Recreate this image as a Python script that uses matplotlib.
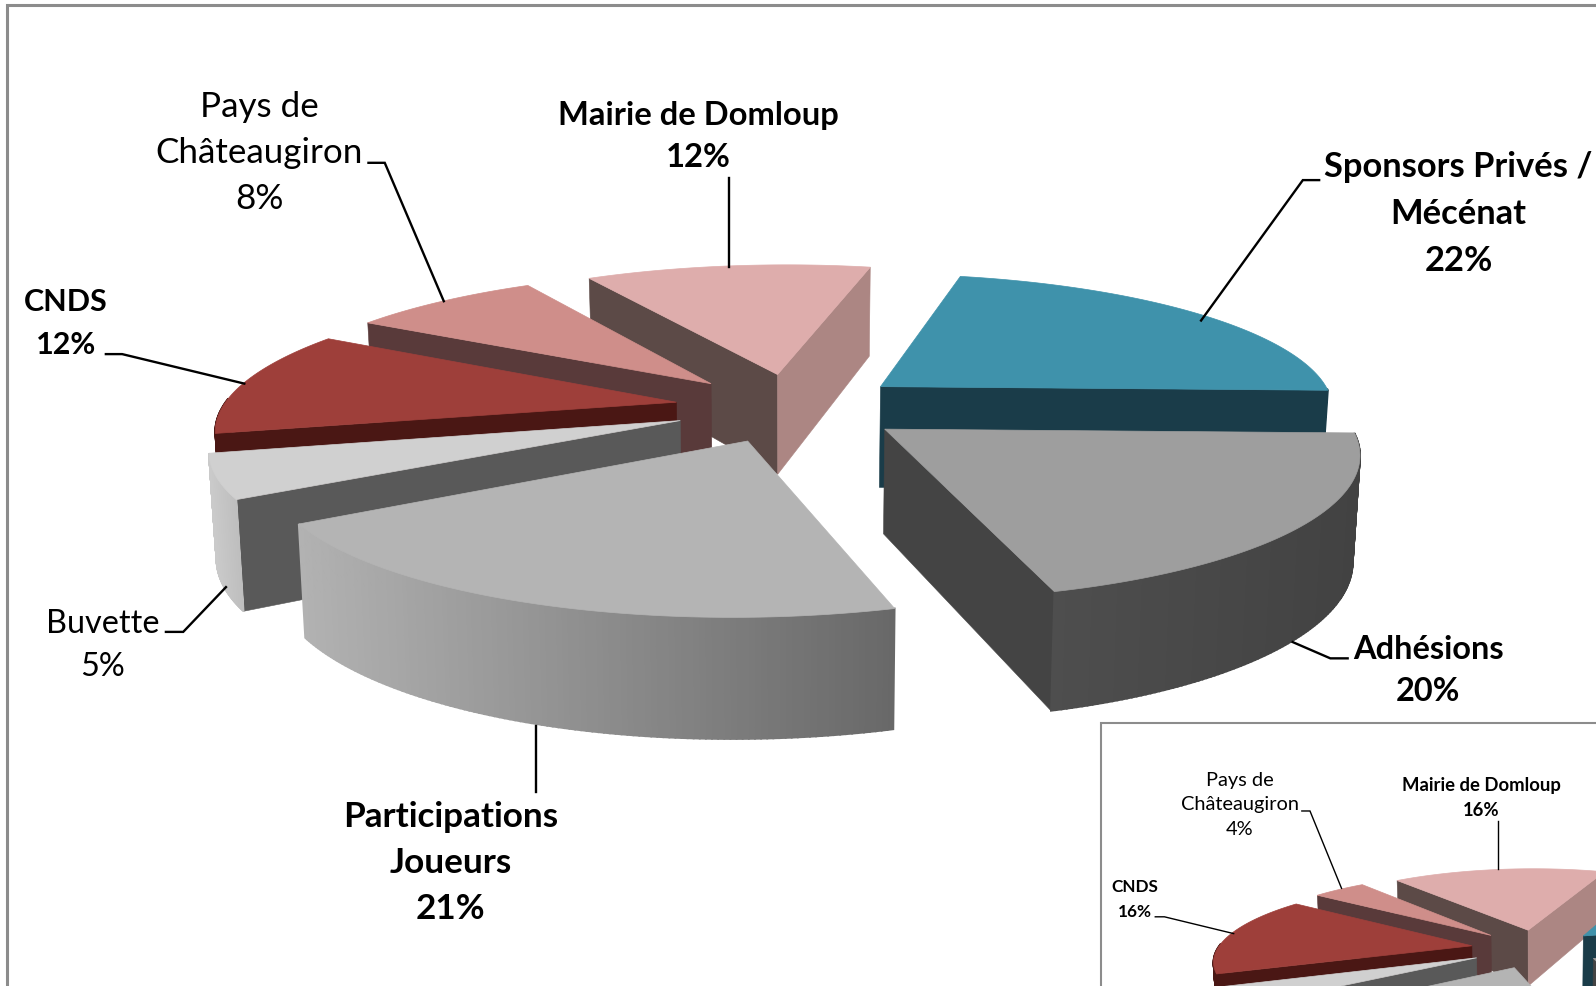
import numpy as np
import matplotlib
matplotlib.use('Agg')
import matplotlib.pyplot as plt
from matplotlib.patches import Polygon, Rectangle
from matplotlib.colors import to_rgb

W, H = 1568.0, 969.0

# data
categories = ['Sponsors Privés /\nMécénat', 'Adhésions', 'Participations\nJoueurs', 'Buvette',
              'CNDS', 'Pays de\nChâteaugiron', 'Mairie de Domloup']
vals = np.array([22, 20, 21, 5, 12, 8, 12], float)
inset_vals = np.array([16, 24, 20, 4, 16, 4, 16], float)

# projection of the pie plane on the page
CX, CY, RX, RY, K, EXPL = 779.975, 400.44, 446.603, 134.136, 0.158, 0.254
SHX, SHY = -17.836, 3.541
A0, A0_INSET = 10.847, 17.6
DEPTH, K_H = 101.0, 0.125
APEX_DX = -4.0
NUDGE = [1, 2, 3, 0, 0, 0, 4]

top_col = ['#3F92AB', '#9E9E9E', '#B4B4B4', '#D0D0D0', '#9E3F3A', '#CF8E8A', '#DEADAC']
start_wall = ['#1A3C49', '#444444', '#707070', '#595959', '#4A1714', '#593A3A', '#5C4A47']
end_wall = ['#1A3C49', '#444444', '#707070', '#C6C6C6', '#4A1714', '#593A3A', '#AC8683']
outer_left = ['#1F4A59', '#4E4E4E', '#B2B2B2', '#CACACA', '#4A1714', '#5A3A3A', '#AC8683']
outer_right = ['#1A3C49', '#424242', '#686868', '#BEBEBE', '#4A1714', '#5A3A3A', '#AC8683']

plt.rcParams['font.family'] = ['Lato', 'DejaVu Sans']
fig = plt.figure(figsize=(15.96, 9.86), dpi=100)
ax = fig.add_axes([0, 0, 1, 1])
ax.set_xlim(0, W)
ax.set_ylim(H, 0)
ax.axis('off')


def project(u, v, sc, ox, oy):
    w = 1 - K*v
    return ox + sc*(CX + (RX*u + SHX*v)/w), oy + sc*(CY + (RY*v + SHY*u)/w)


def drop(x, y, v, sc, ox):
    return x + (sc*CX + ox - x)*0.013, y + sc*DEPTH/(1 - K_H*v)


def draw_pie(values, a0, sc=1.0, ox=0.0, oy=0.0, z=2):
    edges = a0 + np.concatenate([[0], np.cumsum(values)]) * 3.6
    mids = np.radians((edges[:-1] + edges[1:]) / 2)
    for i in np.argsort(-np.cos(mids)):
        t = np.radians(np.linspace(edges[i], edges[i+1], 121))
        au, av = EXPL*np.sin(mids[i]), -EXPL*np.cos(mids[i])
        nudge = NUDGE[i]*sc
        ax_, ay_ = project(au, av, sc, ox + nudge + APEX_DX*sc, oy)
        u, v = au + np.sin(t), av - np.cos(t)
        sx, sy = project(u, v, sc, ox + nudge, oy)
        abx, aby = drop(ax_, ay_, av, sc, ox)
        bx, by = drop(sx, sy, v, sc, ox)
        mx, my = sx[60], sy[60]
        for px, py, pbx, pby, col in ((sx[0], sy[0], bx[0], by[0], start_wall[i]),
                                      (sx[-1], sy[-1], bx[-1], by[-1], end_wall[i])):
            dx = px - ax_
            line_y = ay_ + (mx - ax_)*(py - ay_)/dx if abs(dx) > 1e-6 else np.inf
            if my < line_y:
                ax.add_patch(Polygon([[ax_, ay_], [px, py], [pbx, pby], [abx, aby]], closed=True,
                                     fc=col, ec=col, lw=0.4, zorder=z))
        lc, rc = np.array(to_rgb(outer_left[i])), np.array(to_rgb(outer_right[i]))
        span = max(sx.max() - sx.min(), 1)
        facing = np.cos(t) < 0
        for j in range(len(t) - 1):
            if facing[j] or facing[j+1]:
                f = (0.5*(sx[j] + sx[j+1]) - sx.min())/span
                col = lc + (rc - lc)*f
                ax.add_patch(Polygon([[sx[j], sy[j]], [sx[j+1], sy[j+1]], [bx[j+1], by[j+1]], [bx[j], by[j]]],
                                     closed=True, fc=col, ec=col, lw=1.3, zorder=z))
        ax.add_patch(Polygon(np.column_stack([np.r_[ax_, sx], np.r_[ay_, sy]]), closed=True,
                             fc=top_col[i], ec=top_col[i], lw=0.5, zorder=z))


def leader(xs, ys, lw=1.7, z=5):
    ax.plot(xs, ys, color='black', lw=lw, solid_joinstyle='miter', zorder=z)


def label(x, y, s, size, bold=False, ls=1.55, z=6):
    ax.text(x, y, s, ha='center', va='center', fontsize=size, fontweight='bold' if bold else 'normal',
            linespacing=ls, color='black', zorder=z)


def pct(i, values):
    return f'{categories[i]}\n{values[i]:.0f}%'


ax.plot([7, 7, W], [H, 4.5, 4.5], color='#8C8C8C', lw=2.2, solid_joinstyle='miter', zorder=1)

draw_pie(vals, A0)

label(255, 150, pct(5, vals), 25.2, ls=1.54)
label(686, 134, pct(6, vals), 23.6, True, ls=1.52)
label(1433, 210, pct(0, vals), 24.8, True, ls=1.58)
label(65, 318, pct(4, vals), 22, True, ls=1.67)
label(101, 634, pct(3, vals), 23.3, ls=1.55)
label(1403, 659, pct(1, vals), 23.4, True, ls=1.57)
label(443, 848, pct(2, vals), 25.3, True, ls=1.55)
leader([362, 378, 436], [160, 160, 296])
leader([716, 716], [175, 262])
leader([1296, 1280, 1180], [177, 177, 315])
leader([104, 120, 240], [348, 348, 377])
leader([163, 180, 222], [621, 621, 577])
leader([1324, 1307, 1270], [647, 647, 631])
leader([527, 527], [713, 778])

# inset chart, cut by the page edge
ax.add_patch(Rectangle((1082, 710.5), 600, 400, fc='white', ec='#8C8C8C', lw=1.5, zorder=8))
draw_pie(inset_vals, A0_INSET, 0.56, 1074, 708, z=9)
label(1218, 791, pct(5, inset_vals), 14.4, ls=1.54, z=12)
label(1455.5, 784, pct(6, inset_vals), 13.3, True, ls=1.54, z=12)
label(1115, 884, pct(4, inset_vals), 12.3, True, ls=1.67, z=12)
leader([1279, 1287, 1318], [797, 797, 873], lw=1.0, z=12)
leader([1471.5, 1471.5], [807, 854], lw=1.0, z=12)
leader([1135, 1144, 1212], [901, 901, 917.5], lw=1.0, z=12)

fig.savefig('out.png', dpi=100)
